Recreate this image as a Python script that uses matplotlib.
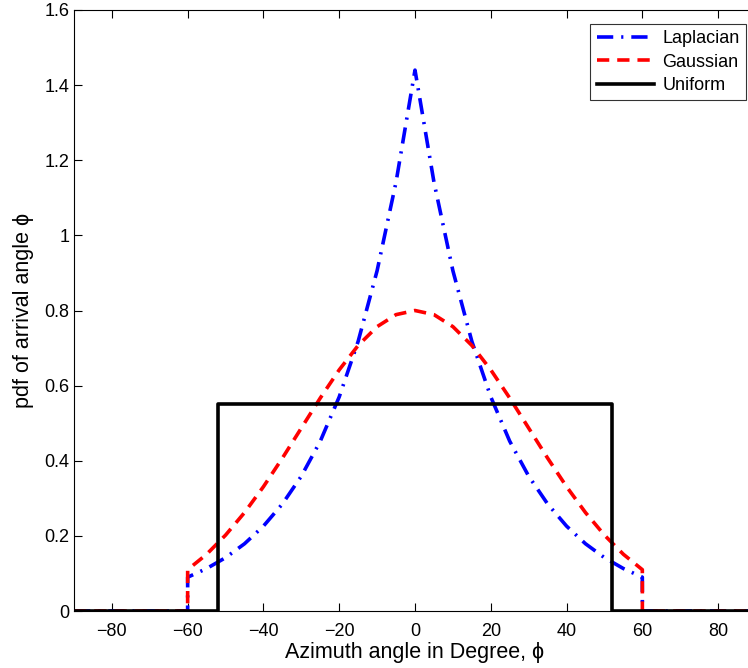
import numpy as np
import matplotlib
matplotlib.use('Agg')
import matplotlib.pyplot as plt

plt.rcParams['font.family'] = ['Liberation Sans', 'DejaVu Sans']

# angle samples (degrees), one side
ang = [0, 5, 10, 15, 20, 25, 30, 35, 40, 45, 50, 55, 60]
lap_half = [1.44, 1.142, 0.906, 0.718, 0.570, 0.452, 0.359, 0.285, 0.226, 0.179, 0.142, 0.113, 0.090]
gau_half = [0.800, 0.789, 0.757, 0.707, 0.642, 0.567, 0.487, 0.407, 0.331, 0.262, 0.202, 0.151, 0.110]
uni_level = 0.551
uni_edge = 52

x_lim = (-90, 90)
y_lim = (0, 1.6)
x_ticks = [-80, -60, -40, -20, 0, 20, 40, 60, 80]
y_ticks = [0, 0.2, 0.4, 0.6, 0.8, 1, 1.2, 1.4, 1.6]
y_tick_labels = ['0', '0.2', '0.4', '0.6', '0.8', '1', '1.2', '1.4', '1.6']


def mirror(xs, ys):
    xs = np.array(xs, dtype=float)
    ys = np.array(ys, dtype=float)
    xx = np.concatenate([-xs[::-1], xs[1:]])
    yy = np.concatenate([ys[::-1], ys[1:]])
    # zero outside the +-60 support
    xx = np.concatenate([[-90, -60.01], xx, [60.01, 90]])
    yy = np.concatenate([[0, 0], yy, [0, 0]])
    return xx, yy


xl, yl = mirror(ang, lap_half)
xg, yg = mirror(ang, gau_half)
xu = [-90, -uni_edge, -uni_edge, uni_edge, uni_edge, 90]
yu = [0, 0, uni_level, uni_level, 0, 0]

fig = plt.figure(figsize=(7.48, 6.68), dpi=100)
ax = fig.add_axes([74 / 748, 57 / 668, 682 / 748, 601 / 668])

ax.plot(xl, yl, color='#0000ff', lw=2.6, dashes=(4.5, 2.2, 0.6, 2.2), label='Laplacian')
ax.plot(xg, yg, color='#ff0000', lw=2.6, dashes=(3.4, 2.2), label='Gaussian')
ax.plot(xu, yu, color='black', lw=2.6, label='Uniform')

ax.set_xlim(x_lim)
ax.set_ylim(y_lim)
ax.set_xticks(x_ticks)
ax.set_yticks(y_ticks)
ax.set_yticklabels(y_tick_labels)
ax.tick_params(direction='in', top=True, right=True, labelsize=13, length=6)
ax.tick_params(axis='x', pad=9)
ax.set_xlabel('Azimuth angle in Degree, ϕ', fontsize=15.5, labelpad=1)
ax.set_ylabel('pdf of arrival angle ϕ', fontsize=15.5, labelpad=7)

leg = ax.legend(loc='upper right', bbox_to_anchor=(746 / 748, 1 - 24 / 668),
                bbox_transform=fig.transFigure, fontsize=13, frameon=True,
                fancybox=False, edgecolor='black', handlelength=3.2,
                borderaxespad=0, borderpad=0.35, labelspacing=0.35, handletextpad=0.45)
leg.get_frame().set_linewidth(0.8)

fig.savefig('out.png', dpi=100)
